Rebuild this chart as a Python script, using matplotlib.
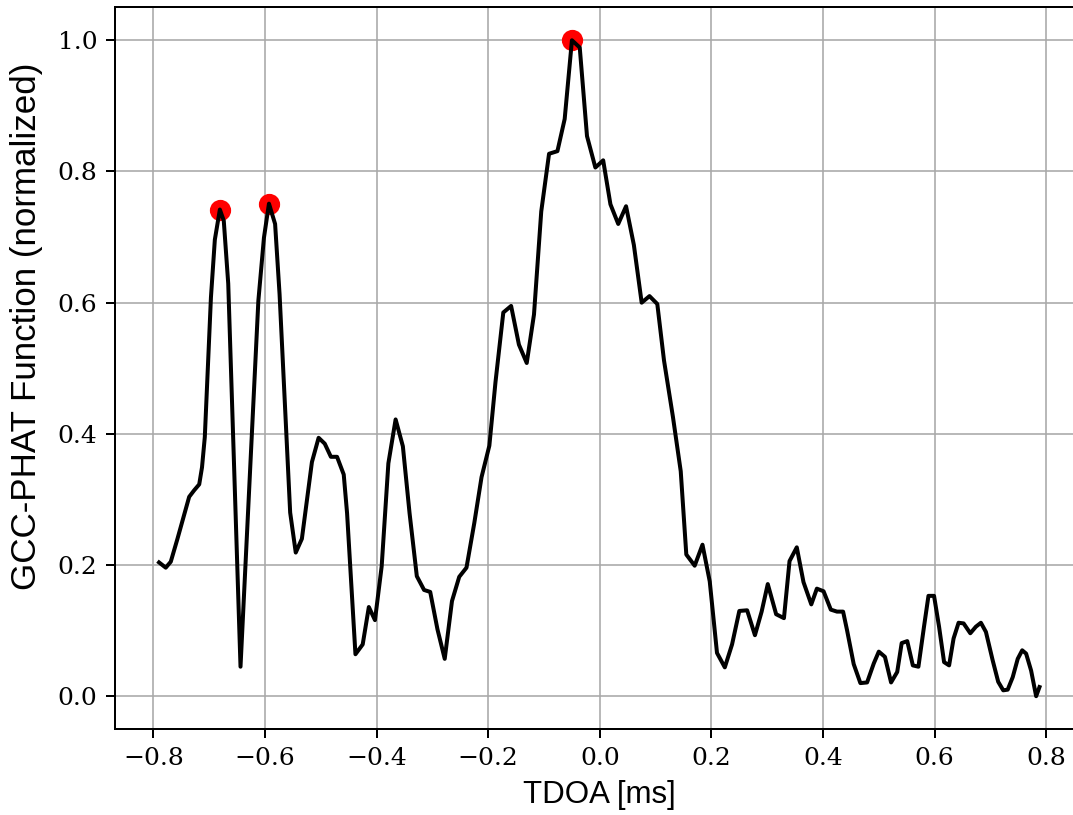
import numpy as np
import matplotlib
matplotlib.use("Agg")
import matplotlib.pyplot as plt

# GCC-PHAT curve (TDOA in ms, normalized value)
tdoa = [
    -0.790, -0.778, -0.769, -0.757, -0.736, -0.727, -0.718, -0.713, -0.708, -0.697,
    -0.690, -0.681, -0.674, -0.666, -0.644, -0.612, -0.602, -0.593, -0.582, -0.574,
    -0.555, -0.545, -0.534, -0.516, -0.504, -0.493,
    -0.482, -0.471, -0.459, -0.453, -0.438, -0.425, -0.414, -0.403, -0.391, -0.379,
    -0.366, -0.353, -0.341, -0.328, -0.315, -0.304, -0.291, -0.278, -0.265, -0.252,
    -0.239, -0.225, -0.212, -0.198,
    -0.187, -0.173, -0.159, -0.145, -0.131, -0.118, -0.105, -0.091, -0.076, -0.063,
    -0.050, -0.036, -0.023, -0.008, 0.006, 0.019, 0.033, 0.047, 0.061, 0.075,
    0.089, 0.103, 0.115,
    0.131, 0.145, 0.155, 0.170, 0.184, 0.197, 0.210, 0.224, 0.237, 0.250,
    0.264, 0.278, 0.290, 0.301, 0.316, 0.330, 0.340, 0.353, 0.365, 0.379,
    0.389, 0.401, 0.414, 0.425, 0.436,
    0.443, 0.455, 0.467, 0.479, 0.491, 0.500, 0.511, 0.522, 0.533, 0.541,
    0.551, 0.561, 0.571, 0.581, 0.589, 0.599, 0.608, 0.617, 0.626, 0.634,
    0.643, 0.652, 0.664, 0.674, 0.683, 0.692, 0.704, 0.714, 0.723, 0.731,
    0.740, 0.749, 0.757, 0.764, 0.773, 0.782, 0.788,
]
gcc = [
    0.204, 0.196, 0.205, 0.240, 0.304, 0.314, 0.323, 0.349, 0.395, 0.608,
    0.696, 0.742, 0.725, 0.629, 0.045, 0.603, 0.699, 0.751, 0.720, 0.613,
    0.280, 0.219, 0.240, 0.357, 0.394, 0.385,
    0.365, 0.365, 0.338, 0.279, 0.064, 0.079, 0.136, 0.116, 0.198, 0.355,
    0.422, 0.381, 0.279, 0.183, 0.162, 0.159, 0.102, 0.057, 0.145, 0.182,
    0.196, 0.264, 0.334, 0.382,
    0.479, 0.585, 0.595, 0.536, 0.508, 0.582, 0.739, 0.827, 0.831, 0.880,
    1.000, 0.989, 0.854, 0.806, 0.817, 0.750, 0.720, 0.747, 0.688, 0.600,
    0.610, 0.598, 0.512,
    0.426, 0.343, 0.216, 0.199, 0.231, 0.175, 0.066, 0.044, 0.079, 0.130,
    0.131, 0.093, 0.129, 0.171, 0.125, 0.119, 0.206, 0.227, 0.174, 0.140,
    0.164, 0.160, 0.132, 0.129, 0.129,
    0.101, 0.049, 0.020, 0.021, 0.050, 0.068, 0.060, 0.021, 0.037, 0.081,
    0.084, 0.047, 0.045, 0.106, 0.153, 0.153, 0.106, 0.052, 0.047, 0.088,
    0.112, 0.111, 0.096, 0.106, 0.112, 0.098, 0.055, 0.022, 0.009, 0.010,
    0.029, 0.057, 0.070, 0.065, 0.039, 0.000, 0.014,
]

# detected peaks
peak_tdoa = [-0.681, -0.593, -0.050]
peak_vals = [0.742, 0.751, 1.000]

plt.rcParams['font.family'] = 'serif'
plt.rcParams['font.serif'] = ['DejaVu Serif']
label_font = ['Liberation Sans', 'DejaVu Sans']

fig = plt.figure(figsize=(1073 / 180, 815 / 180), dpi=180)
ax = fig.add_axes([0.1072, 0.1055, 0.9026, 0.8853])

ax.plot(peak_tdoa, peak_vals, 'o', color='red', ms=7.5, zorder=2)
ax.plot(tdoa, gcc, color='black', lw=1.6, zorder=3)

ax.set_xticks(np.arange(-0.8, 0.81, 0.2))
ax.set_yticks(np.arange(0.0, 1.01, 0.2))
ax.grid(True, color='#a8a8a8', alpha=0.8, lw=0.8)
ax.set_axisbelow(True)

ax.set_xlabel('TDOA [ms]', family=label_font, fontsize=12.5, va='baseline')
ax.xaxis.set_label_coords(0.5, -0.1026)
ax.set_ylabel('GCC-PHAT Function (normalized)', family=label_font,
              fontsize=14, va='center')
ax.yaxis.set_label_coords(-0.091, 0.5585)

fig.savefig('out.png', dpi=180)
